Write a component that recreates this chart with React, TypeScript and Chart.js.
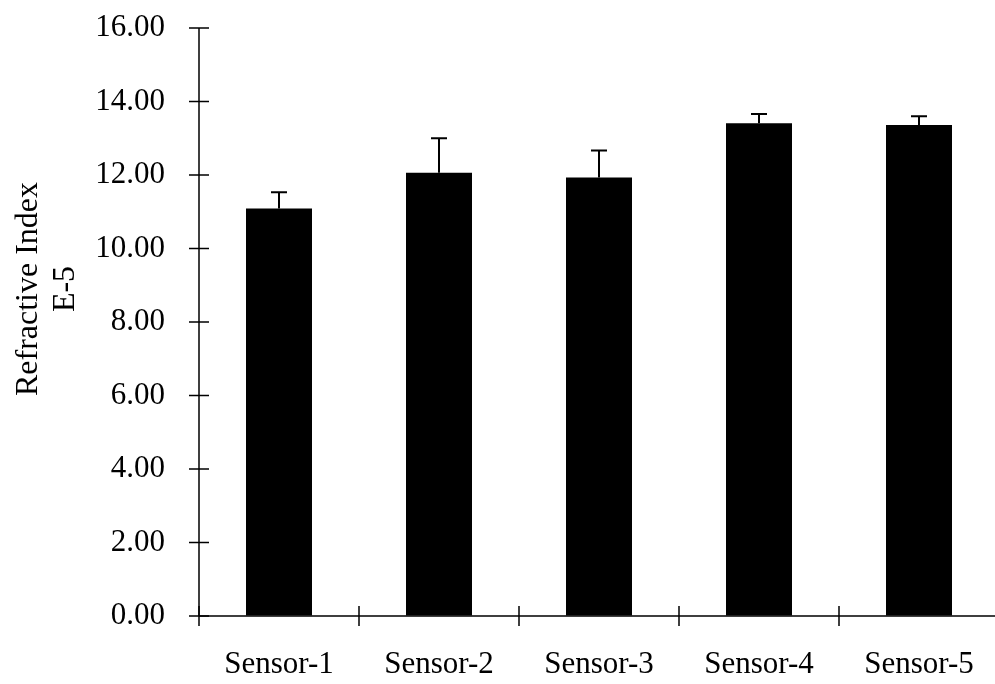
import React, { useEffect, useRef } from "react";
import { Chart, registerables } from "chart.js";

Chart.register(...registerables);

const categories = ["Sensor-1", "Sensor-2", "Sensor-3", "Sensor-4", "Sensor-5"];
const values = [11.09, 12.06, 11.93, 13.41, 13.36];
const errors = [0.44, 0.94, 0.74, 0.25, 0.24];
const yMin = 0;
const yMax = 16;
const yStep = 2;
const yTitle = ["Refractive Index", "E-5"];

const FONT = "'Liberation Serif', 'Times New Roman', serif";

const decorPlugin = {
  id: "decor",
  afterDraw(chart: any) {
    const ctx = chart.ctx;
    const xs = chart.scales.x;
    const ys = chart.scales.y;
    const area = chart.chartArea;
    ctx.save();
    ctx.strokeStyle = "#000";
    ctx.lineWidth = 1.5;
    // axes
    ctx.beginPath();
    ctx.moveTo(area.left, area.top);
    ctx.lineTo(area.left, area.bottom);
    ctx.moveTo(area.left, area.bottom);
    ctx.lineTo(area.right, area.bottom);
    ctx.stroke();
    // y ticks (cross)
    ctx.beginPath();
    for (let v = yMin; v <= yMax + 1e-9; v += yStep) {
      const y = ys.getPixelForValue(v);
      ctx.moveTo(area.left - 10, y);
      ctx.lineTo(area.left + 10, y);
    }
    // x boundary ticks (cross)
    for (let i = 0; i <= categories.length; i++) {
      const x = xs.getPixelForValue(i - 0.5);
      ctx.moveTo(x, area.bottom - 10);
      ctx.lineTo(x, area.bottom + 10);
    }
    ctx.stroke();
    // error bars
    const meta = chart.getDatasetMeta(0);
    ctx.lineWidth = 2;
    ctx.beginPath();
    meta.data.forEach((bar: any, i: number) => {
      const x = bar.x;
      const y0 = ys.getPixelForValue(values[i]);
      const y1 = ys.getPixelForValue(values[i] + errors[i]);
      ctx.moveTo(x, y0);
      ctx.lineTo(x, y1);
      ctx.moveTo(x - 8, y1);
      ctx.lineTo(x + 8, y1);
    });
    ctx.stroke();
    // y title
    ctx.fillStyle = "#000";
    ctx.font = `32px ${FONT}`;
    ctx.textAlign = "center";
    ctx.textBaseline = "middle";
    ctx.translate(0, 289);
    ctx.rotate(-Math.PI / 2);
    ctx.fillText(yTitle[0], 0, 29);
    ctx.fillText(yTitle[1], 0, 66);
    ctx.restore();
  },
};

export default function App() {
  const ref = useRef<HTMLCanvasElement | null>(null);
  useEffect(() => {
    if (!ref.current) return;
    const chart = new Chart(ref.current, {
      type: "bar",
      data: {
        labels: categories,
        datasets: [
          {
            data: values,
            backgroundColor: "#000",
            borderWidth: 0,
            barPercentage: 0.4125,
            categoryPercentage: 1,
          },
        ],
      },
      options: {
        responsive: false,
        animation: false,
        devicePixelRatio: 1,
        layout: { padding: { left: 0, top: 28, right: 4, bottom: 0 } },
        plugins: {
          legend: { display: false },
          tooltip: { enabled: false },
          title: { display: false },
        },
        scales: {
          x: {
            grid: {
              display: true,
              color: "rgba(0,0,0,0)",
              drawOnChartArea: false,
              drawTicks: true,
              tickLength: 10,
            },
            border: { display: false },
            ticks: {
              color: "#000",
              font: { family: FONT, size: 31 },
              padding: 20,
              maxRotation: 0,
              autoSkip: false,
            },
            afterFit: (s: any) => {
              s.height = 68;
              s.paddingLeft = 0;
              s.paddingRight = 0;
            },
          },
          y: {
            min: yMin,
            max: yMax,
            grid: {
              display: true,
              color: "rgba(0,0,0,0)",
              drawOnChartArea: false,
              drawTicks: true,
              tickLength: 10,
            },
            border: { display: false },
            ticks: {
              stepSize: yStep,
              color: "#000",
              font: { family: FONT, size: 31 },
              padding: 24,
              callback: (v: any) => Number(v).toFixed(2),
            },
            afterFit: (s: any) => {
              s.width = 199;
              s.paddingTop = 0;
              s.paddingBottom = 0;
            },
          },
        },
      },
      plugins: [decorPlugin],
    });
    return () => chart.destroy();
  }, []);
  return (
    <div
      style={{
        position: "fixed",
        left: 0,
        top: 0,
        width: 995,
        height: 684,
        overflow: "hidden",
        background: "#fff",
      }}
    >
      <canvas ref={ref} width={1003} height={684} style={{ display: "block" }} />
    </div>
  );
}
